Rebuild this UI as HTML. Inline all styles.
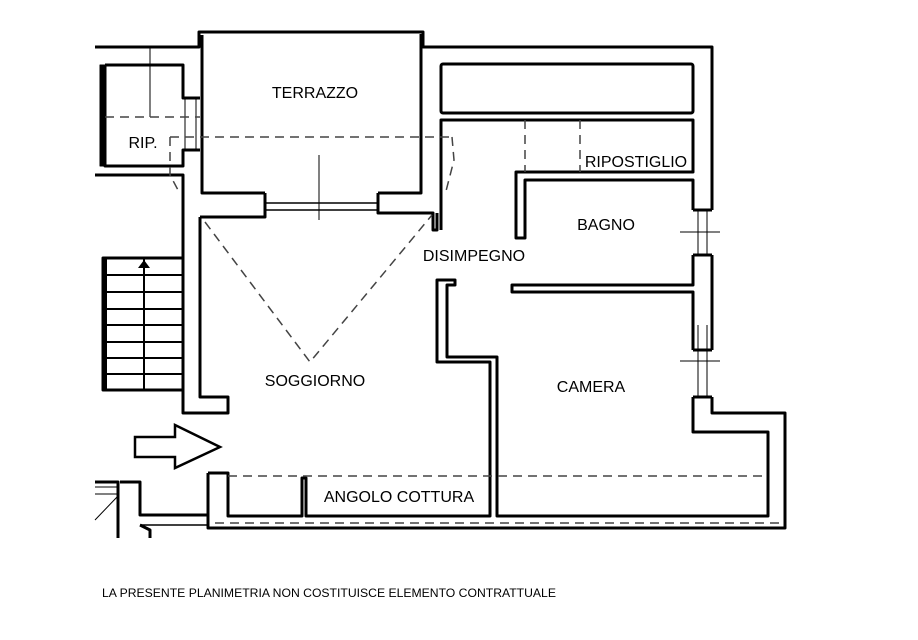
<!DOCTYPE html>
<html><head><meta charset="utf-8"><style>
html,body{margin:0;padding:0;background:#fff;}
svg{display:block;}
text{font-family:"Liberation Sans",sans-serif;fill:#000;}
</style></head><body>
<svg width="918" height="640" viewBox="0 0 918 640" xmlns="http://www.w3.org/2000/svg">
<g fill="none" stroke="#000" stroke-width="3" stroke-linejoin="round">
<polyline points="95,47 199,47 199,32 423,32 423,47 712,47 712,210"/>
<polyline points="202,35 202,193 265,193"/>
<polyline points="378,193 421,193 421,34"/>
<polyline points="200,217 200,397 228,397 228,413 183,413 183,175 95,175"/>
<polyline points="200,217 265,217 265,193"/>
<polyline points="378,193 378,213 433,213 433,230 437,230 437,213"/>
<line x1="265" y1="203" x2="378" y2="203" stroke-width="1.5"/>
<line x1="265" y1="210" x2="378" y2="210" stroke-width="1.5"/>
<polyline points="105,65 183,65 183,98 200,98"/>
<polyline points="200,150 183,150 183,166 105,166 105,65"/>
<rect x="100" y="65" width="6" height="101" fill="#000" stroke-width="1"/>
<rect x="441" y="64" width="252" height="49" rx="2"/>
<polyline points="441,230 441,120 693,120 693,172 516,172 516,238 525,238 525,180 693,180 693,210"/>
<polyline points="693,255 693,285 512,285 512,292 693,292 693,325"/>
<polyline points="712,255 712,350"/>
<polyline points="712,397 712,413 785,413 785,528 208,528 208,473"/>
<polyline points="693,397 693,432 768,432 768,516 497,516 497,357 447,357 447,285 455,285 455,280 437,280 437,362 490,362 490,516 306,516 306,478 302,478 302,516 228,516 228,473 208,473"/>
<line x1="693" y1="210" x2="712" y2="210"/><line x1="693" y1="255" x2="712" y2="255"/>
<line x1="693" y1="350" x2="712" y2="350"/><line x1="693" y1="397" x2="712" y2="397"/>
<line x1="693" y1="325" x2="693" y2="350"/>
<polyline points="95,482 118,482 118,538"/>
<polyline points="120,482 140,482 140,515 208,515"/>
<line x1="140" y1="525" x2="208" y2="525" stroke-width="1.5"/>
<polyline points="140,525 150,530 150,538"/>
<rect x="103" y="258" width="80" height="132"/>
</g>
<g stroke="#000" stroke-width="2">
<line x1="103" y1="275" x2="183" y2="275"/><line x1="103" y1="292" x2="183" y2="292"/>
<line x1="103" y1="309" x2="183" y2="309"/><line x1="103" y1="325" x2="183" y2="325"/>
<line x1="103" y1="342" x2="183" y2="342"/><line x1="103" y1="358" x2="183" y2="358"/>
<line x1="103" y1="374" x2="183" y2="374"/><line x1="144" y1="258" x2="144" y2="390"/>
<line x1="105" y1="258" x2="105" y2="390" stroke-width="4"/>
</g>
<polygon points="138,268 144,260 150,268" fill="#000"/>
<g stroke="#000" stroke-width="1">
<line x1="698" y1="210" x2="698" y2="255"/><line x1="707" y1="210" x2="707" y2="255"/>
<line x1="680" y1="232" x2="720" y2="232"/>
<line x1="698" y1="325" x2="698" y2="397"/><line x1="707" y1="325" x2="707" y2="397"/>
<line x1="680" y1="361" x2="720" y2="361"/>
<line x1="150" y1="47" x2="150" y2="117"/><line x1="185" y1="98" x2="185" y2="150"/>
<line x1="196" y1="98" x2="196" y2="150"/><line x1="319" y1="155" x2="319" y2="220"/>
<line x1="95" y1="487" x2="118" y2="487"/><line x1="95" y1="494" x2="118" y2="494"/>
<line x1="95" y1="520" x2="118" y2="496"/>
</g>
<g fill="none" stroke="#444" stroke-width="1.5" stroke-dasharray="9,6">
<line x1="105" y1="117" x2="200" y2="117"/>
<line x1="170" y1="137" x2="455" y2="137"/>
<polyline points="205,222 310,362 432,215"/>
<line x1="228" y1="476" x2="768" y2="476"/>
<line x1="215" y1="523" x2="785" y2="523"/>
<line x1="525" y1="120" x2="525" y2="172"/>
<line x1="580" y1="120" x2="580" y2="172"/>
<path d="M452,137 L454,160 L445,195"/>
<path d="M170,137 L170,175 L178,190"/>
</g>
<polygon points="135,437 175,437 175,425 220,447 175,468 175,457 135,457" fill="#fff" stroke="#000" stroke-width="2.5"/>
<g font-size="16">
<text x="315" y="98" text-anchor="middle">TERRAZZO</text>
<text x="143" y="148" text-anchor="middle">RIP.</text>
<text x="636" y="167" text-anchor="middle">RIPOSTIGLIO</text>
<text x="606" y="230" text-anchor="middle">BAGNO</text>
<text x="474" y="261" text-anchor="middle">DISIMPEGNO</text>
<text x="315" y="386" text-anchor="middle">SOGGIORNO</text>
<text x="591" y="392" text-anchor="middle">CAMERA</text>
<text x="399" y="502" text-anchor="middle">ANGOLO COTTURA</text>
</g>
<text x="102" y="597" font-size="12.2">LA PRESENTE PLANIMETRIA NON COSTITUISCE ELEMENTO CONTRATTUALE</text>
</svg>
</body></html>
